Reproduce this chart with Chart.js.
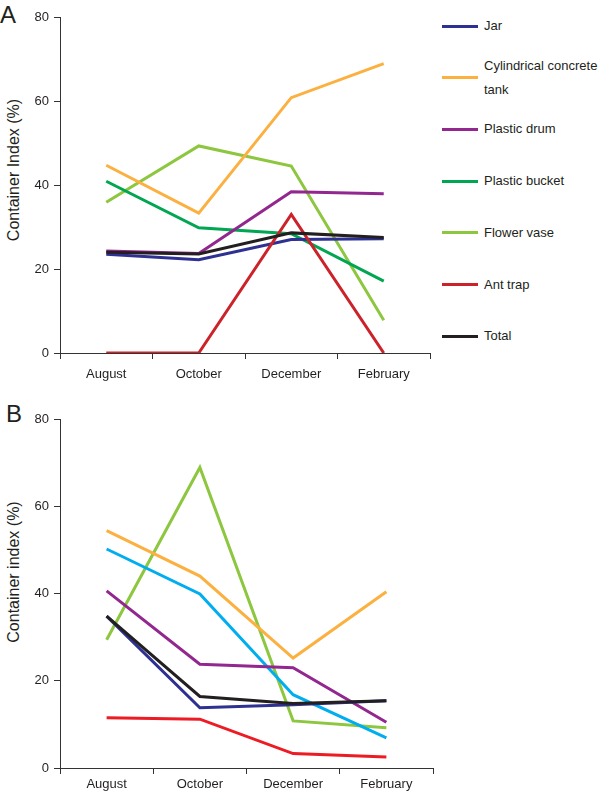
<!DOCTYPE html>
<html>
<head>
<meta charset="utf-8">
<script src="https://cdn.jsdelivr.net/npm/chart.js@4"></script>
<style>
  body { margin: 0; background: #fff; font-family: 'Liberation Sans', Arial, Helvetica, sans-serif; color: #231f20; }
  #page { position: relative; width: 600px; height: 794px; overflow: hidden; }
  .panel { position: absolute; left: 0; }
  .letter { position: absolute; font-size: 24px; line-height: 24px; }
  .ytitle { position: absolute; font-size: 16px; white-space: nowrap; transform: translate(-50%, -50%) rotate(-90deg); }
  .legend-item { position: absolute; left: 442px; font-size: 13px; line-height: 24px; }
  .legend-item .swatch { position: absolute; left: 0; width: 36px; height: 3px; }
  .legend-item .txt { position: absolute; left: 42px; white-space: nowrap; }
</style>
</head>
<body>
<div id="page">
  <div class="letter" style="left:0px; top:3px;">A</div>
  <div class="ytitle" style="left:14px; top:170px;">Container Index (%)</div>
  <div class="panel" style="top:0px;"><canvas id="chartA" width="440" height="392"></canvas></div>
  <div id="legendA"></div>

  <div class="letter" style="left:6px; top:402px;">B</div>
  <div class="ytitle" style="left:14px; top:572px;">Container index (%)</div>
  <div class="panel" style="top:400px;"><canvas id="chartB" width="443" height="394"></canvas></div>
</div>

<script>
// Data
const months = ['August', 'October', 'December', 'February'];
const yTicks = [0, 20, 40, 60, 80];

// Panel A
const jarA      = [23.5, 22.2, 27.0, 27.2];
const tankA     = [44.7, 33.3, 60.8, 68.9];
const drumA     = [24.3, 23.7, 38.4, 37.9];
const bucketA   = [40.9, 29.8, 28.4, 17.1];
const vaseA     = [35.9, 49.3, 44.5, 7.8];
const antTrapA  = [0, 0, 33.0, 0];
const totalA    = [24.0, 23.6, 28.6, 27.5];

// Panel B
const jarB      = [34.8, 13.8, 14.5, 15.4];
const tankB     = [54.4, 44.0, 25.2, 40.4];
const drumB     = [40.6, 23.8, 23.0, 10.5];
const bucketB   = [50.2, 39.9, 16.8, 6.9];
const vaseB     = [29.4, 68.9, 10.8, 9.2];
const antTrapB  = [11.5, 11.2, 3.3, 2.5];
const totalB    = [34.8, 16.4, 14.8, 15.4];

const FONT = "'Liberation Sans', Arial, Helvetica, sans-serif";
const AXIS = '#333333';

function line(label, data, color, order) {
  return {
    label: label,
    data: data,
    borderColor: color,
    backgroundColor: color,
    borderWidth: 3,
    pointRadius: 0,
    tension: 0,
    order: order
  };
}

const datasetsA = [
  line(['Jar'], jarA, '#2e3192', 2),
  line(['Cylindrical concrete', 'tank'], tankA, '#fbb040', 5),
  line(['Plastic drum'], drumA, '#92278f', 3),
  line(['Plastic bucket'], bucketA, '#00a651', 4),
  line(['Flower vase'], vaseA, '#8dc63f', 6),
  line(['Ant trap'], antTrapA, '#cc2229', 1),
  line(['Total'], totalA, '#231f20', 0)
];

const datasetsB = [
  line(['Jar'], jarB, '#2e3192', 2),
  line(['Cylindrical concrete', 'tank'], tankB, '#fbb040', 5),
  line(['Plastic drum'], drumB, '#92278f', 3),
  line(['Plastic bucket'], bucketB, '#00aeef', 4),
  line(['Flower vase'], vaseB, '#8dc63f', 6),
  line(['Ant trap'], antTrapB, '#ed1c24', 1),
  line(['Total'], totalB, '#231f20', 0)
];

function makeChart(id, datasets, padTop, xHeight, xPad) {
  const ctx = document.getElementById(id).getContext('2d');
  return new Chart(ctx, {
    type: 'line',
    data: { labels: months, datasets: datasets },
    options: {
      responsive: false,
      animation: false,
      layout: { padding: { top: padTop, right: 10, left: 0, bottom: 0 } },
      plugins: { legend: { display: false }, tooltip: { enabled: false } },
      scales: {
        x: {
          offset: true,
          afterFit: (scale) => { scale.height = xHeight; },
          grid: {
            offset: true,
            drawOnChartArea: false,
            drawTicks: true,
            tickLength: 6,
            color: (c) => c.index === months.length ? 'rgba(0,0,0,0)' : AXIS
          },
          border: { color: AXIS, width: 1 },
          ticks: { color: '#231f20', padding: xPad, font: { family: FONT, size: 13 } }
        },
        y: {
          min: 0,
          max: 80,
          afterFit: (scale) => { scale.width = 60; },
          afterBuildTicks: (scale) => { scale.ticks = yTicks.map(v => ({ value: v })); },
          grid: { drawOnChartArea: false, drawTicks: true, tickLength: 6, color: AXIS },
          border: { color: AXIS, width: 1 },
          ticks: { color: '#231f20', padding: 5, font: { family: FONT, size: 13 } }
        }
      }
    }
  });
}

const chartA = makeChart('chartA', datasetsA, 17, 39, 8);
const chartB = makeChart('chartB', datasetsB, 19, 26, 3);

// HTML legend for panel A, built from the chart's datasets
function buildLegend(chart, el) {
  const top0 = 26, step = 51.7;
  chart.data.datasets.forEach((ds, i) => {
    const cy = top0 + i * step;
    const item = document.createElement('div');
    item.className = 'legend-item';
    item.style.top = cy + 'px';
    const sw = document.createElement('div');
    sw.className = 'swatch';
    sw.style.background = ds.borderColor;
    sw.style.top = '-1.5px';
    const txt = document.createElement('div');
    txt.className = 'txt';
    const lines = ds.label;
    txt.style.top = (-lines.length * 12) + 'px';
    txt.innerHTML = lines.join('<br>');
    item.appendChild(sw);
    item.appendChild(txt);
    el.appendChild(item);
  });
}
buildLegend(chartA, document.getElementById('legendA'));
</script>
</body>
</html>
